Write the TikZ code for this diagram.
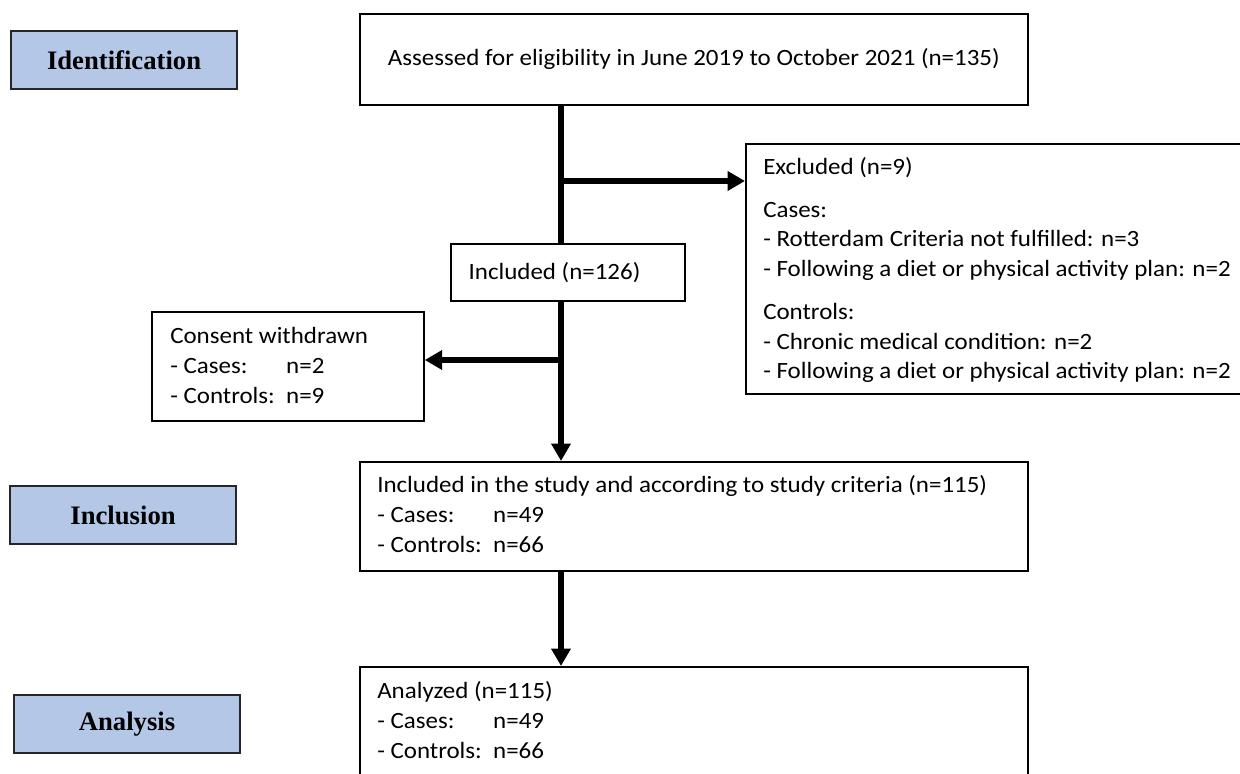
\documentclass[tikz,border=0pt]{standalone}
\usepackage{fontspec}
\usepackage{calc}
\setmainfont[FakeStretch=1.07]{Carlito}
\newfontfamily\labfont{Liberation Serif}
\usetikzlibrary{arrows.meta,calc}
\definecolor{labblue}{HTML}{B4C7E7}
\begin{document}
\begin{tikzpicture}[x=0.75pt,y=-0.75pt,
  box/.style={draw=black, line width=1.3pt, rectangle, anchor=north west, inner sep=0pt},
  lab/.style={draw=black!85, line width=1.6pt, fill=labblue, rectangle, anchor=north west,
     inner sep=0pt, minimum width=226*0.75pt, minimum height=58*0.75pt,
     font=\labfont\bfseries\fontsize{20}{24}\selectfont},
  txt/.style={font=\fontsize{17.5}{22.2}\selectfont, align=left, inner sep=0pt},
  flow/.style={line width=4.5pt, -{Triangle[length=13pt,width=14pt]}},
  trunk/.style={line width=4.5pt}
]
\useasboundingbox (0,0) rectangle (1240,774);
\newcommand\cl[2]{\makebox[\widthof{- Controls:\ \ }][l]{#1}#2}
% phase labels
\node[lab] (ident) at (10,30) {Identification};
\node[lab] (inclu) at (9,485) {Inclusion};
\node[lab] (analy) at (13,694) {Analysis};
% boxes
\node[box, minimum width=668*0.75pt, minimum height=91*0.75pt, txt] (top) at (359,13)
  {Assessed for eligibility in June 2019 to October 2021 (n=135)};
\node[box, minimum width=234*0.75pt, minimum height=57*0.75pt, txt] (inc126) at (450,243)
  {Included (n=126)\hspace{20pt}};
\node[box, minimum width=520*0.75pt, minimum height=250*0.75pt] (excl) at (745,143) {};
\node[txt, anchor=north west] (excltxt) at (763,157)
  {Excluded (n=9)\\[10pt]
   Cases:\\
   - Rotterdam Criteria not fulfilled: n=3\\
   - Following a diet or physical activity plan: n=2\\[10pt]
   Controls:\\
   - Chronic medical condition: n=2\\
   - Following a diet or physical activity plan: n=2};
\node[box, minimum width=272*0.75pt, minimum height=109*0.75pt] (consent) at (151,311) {};
\node[txt, anchor=west] (consenttxt) at (170,365.5)
  {Consent withdrawn\\ \cl{- Cases:}{n=2}\\ \cl{- Controls:}{n=9}};
\node[box, minimum width=668*0.75pt, minimum height=109*0.75pt] (study) at (359,461) {};
\node[txt, anchor=west] (studytxt) at (377,514)
  {Included in the study and according to study criteria (n=115)\\ \cl{- Cases:}{n=49}\\ \cl{- Controls:}{n=66}};
\node[box, minimum width=668*0.75pt, minimum height=140*0.75pt] (anal) at (359,666) {};
\node[txt, anchor=west] (analtxt) at (377,720)
  {Analyzed (n=115)\\ \cl{- Cases:}{n=49}\\ \cl{- Controls:}{n=66}};
% connectors
\coordinate (tx) at (561,0);
\coordinate (b1) at (561,181);
\coordinate (b2) at (561,360);
\draw[trunk] (top.south -| tx) -- (inc126.north -| tx);
\draw[flow] (b1) -- (b1 -| excl.west);
\draw[flow] (inc126.south -| tx) -- (study.north -| tx);
\draw[flow] (b2) -- (b2 -| consent.east);
\draw[flow] (study.south -| tx) -- (anal.north -| tx);
\end{tikzpicture}
\end{document}
